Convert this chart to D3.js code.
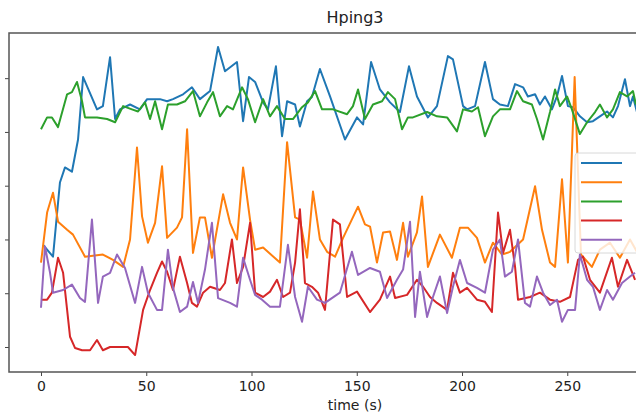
<!DOCTYPE html>
<html>
<head>
<meta charset="utf-8">
<script src="https://cdn.jsdelivr.net/npm/d3@7"></script>
<style>
  body { margin: 0; background: #fff; }
  text { font-family: "DejaVu Sans", sans-serif; fill: #222; }
</style>
</head>
<body>
<div id="chart"></div>
<script>
// values, time in s, level in tick units (labels are cropped)
var blueT = [1, 5.7, 9, 11.4, 14.7, 17.6, 20, 26.6, 29.4, 32.8, 35.2, 37.5, 42.3, 47, 50.4, 56.5, 59.9, 62.7, 67.5, 71.7, 75.5, 80.3, 84.1, 87.4, 93.1, 96, 98.8, 101.7, 105.5, 107.8, 111.6, 114.5, 116.9, 120.7, 123, 126.4, 128.7, 132.5, 137.3, 144.4, 150.1, 153, 156.8, 161, 165.8, 170.5, 174.8, 178.6, 183.8, 188.1, 193.3, 195.7, 200.5, 202.4, 206.2, 210.9, 214.7, 218, 221.8, 225.2, 229, 231.3, 234.7, 237, 239.4, 242.7, 245.1, 247.5, 250.3, 252.7, 256, 259.4, 262.2, 265.5, 268.9, 271.7, 274.1, 277.4, 279.8, 281.2, 283.1];
var blueV = [1.90, 1.68, 3.06, 3.34, 3.26, 3.86, 5.02, 4.42, 4.48, 5.39, 4.24, 4.42, 4.51, 4.42, 4.61, 4.61, 4.57, 4.61, 4.70, 4.83, 4.61, 4.76, 5.58, 5.13, 5.30, 4.20, 5.02, 4.93, 4.55, 4.42, 5.22, 3.92, 4.57, 4.51, 4.10, 4.57, 4.65, 5.17, 4.66, 3.86, 4.27, 4.14, 5.30, 4.79, 4.55, 4.37, 5.22, 4.66, 4.27, 4.48, 5.41, 5.35, 4.48, 4.42, 4.48, 5.30, 4.61, 4.51, 4.48, 4.89, 4.83, 4.66, 4.70, 4.51, 4.66, 4.42, 4.66, 5.04, 4.48, 4.46, 4.29, 4.18, 4.20, 4.29, 4.38, 4.27, 4.48, 4.98, 4.48, 4.66, 4.37];

var orangeT = [0, 2.9, 5.7, 8.1, 12.4, 15.2, 20.9, 29.4, 34.2, 39, 42.3, 45.6, 48, 50.8, 54.2, 57.5, 59.9, 64.6, 67, 69.4, 72.2, 75.5, 77.9, 81.2, 86.5, 89.8, 93.1, 96, 99.3, 101.7, 105.5, 113.5, 116.9, 120.7, 123, 126.4, 129.2, 132.5, 135.9, 139.7, 143.5, 150.6, 153.9, 156.3, 159.6, 162.5, 165.8, 169.1, 172, 174.3, 178.6, 181, 183.8, 189.5, 195.2, 199, 202.8, 207.1, 210.9, 214.7, 219, 222.8, 229, 234.7, 238, 241.8, 244.2, 247.5, 250.3, 253.5, 256.5, 261.7, 265.5, 270.3, 275, 279.8, 283.1];
var orangeV = [1.57, 2.50, 2.87, 2.33, 2.18, 2.09, 1.68, 1.72, 1.62, 1.49, 2.00, 3.71, 2.43, 1.94, 2.31, 3.36, 2.03, 2.22, 2.41, 4.05, 1.75, 2.41, 2.41, 1.66, 2.84, 2.31, 2.00, 3.34, 2.37, 1.81, 1.85, 1.57, 3.81, 2.41, 2.37, 1.66, 2.89, 2.00, 1.77, 1.68, 2.03, 2.61, 2.28, 2.24, 1.57, 2.13, 2.15, 1.62, 2.31, 1.68, 2.13, 2.80, 1.49, 2.09, 1.66, 2.22, 2.22, 2.03, 1.57, 1.94, 1.72, 1.77, 2.00, 2.99, 2.18, 1.57, 1.49, 3.12, 1.57, 5.02, 1.72, 1.49, 1.81, 1.94, 1.66, 2.00, 1.77];

var greenT = [0, 2.9, 5.2, 8.1, 12.4, 14.7, 17.1, 19.5, 20.9, 26.6, 31.4, 35.2, 39, 43.2, 46.1, 49.4, 51.8, 54.2, 57.5, 60.3, 64.6, 68.4, 72.2, 75.5, 78.9, 81.7, 85, 88.4, 91.2, 95.5, 98.3, 101.7, 105.5, 108.8, 112.1, 115.9, 119.7, 124, 126.8, 130.2, 133.5, 138.7, 145.4, 148.2, 150.6, 153.9, 157.7, 162, 164.8, 168.2, 171.5, 174.3, 176.7, 183.4, 188.1, 192.9, 197.6, 200.5, 204.7, 207.6, 210.9, 214.7, 218, 222.8, 226.1, 229, 233.2, 235.6, 238.5, 241.8, 244.2, 246.5, 249.9, 252.2, 256, 259.4, 263.2, 265.5, 268.9, 271.7, 275, 278.4, 281.2, 282.6];
var greenV = [4.05, 4.27, 4.27, 4.09, 4.70, 4.74, 4.93, 4.57, 4.27, 4.27, 4.24, 4.18, 4.48, 4.42, 4.38, 4.55, 4.24, 4.57, 4.05, 4.51, 4.51, 4.57, 4.76, 4.29, 4.55, 4.74, 4.29, 4.48, 4.42, 4.83, 4.61, 4.18, 4.61, 4.29, 4.48, 4.24, 4.24, 4.46, 4.55, 4.76, 4.42, 4.42, 4.33, 4.48, 4.79, 4.24, 4.51, 4.57, 4.74, 4.61, 4.05, 4.27, 4.27, 4.37, 4.29, 4.27, 4.01, 4.42, 4.38, 4.46, 3.92, 4.29, 4.42, 4.42, 4.76, 4.57, 4.51, 4.24, 3.86, 4.37, 4.79, 4.48, 4.66, 4.42, 3.96, 4.18, 4.37, 4.51, 4.27, 4.42, 4.74, 4.66, 4.76, 4.51];

var redT = [0, 2.9, 5.2, 8.1, 10.5, 13.8, 16.2, 19.5, 23.3, 26.6, 29.4, 32.8, 37.5, 41.3, 44.7, 48.5, 51.8, 55.1, 57.5, 59.9, 62.7, 66, 69.4, 71.7, 74.1, 77, 80.3, 85, 87.4, 90.7, 93.1, 96, 99.3, 101.7, 105.5, 108.8, 112.1, 115, 118.3, 120.7, 123, 125.4, 128.7, 131.6, 134.9, 138.7, 142, 145.4, 150.1, 156.3, 161, 165.8, 168.2, 173.9, 178.6, 181.5, 184.8, 188.1, 192.9, 195.7, 199, 202.4, 207.1, 210.9, 214.2, 217.1, 219.5, 222.8, 225.2, 226.6, 232.3, 237, 241.8, 246.5, 251.3, 255.1, 257.5, 260.8, 265.5, 271.2, 274.1, 278.4, 282.2];
var redV = [0.88, 0.88, 1.01, 1.66, 1.38, 0.19, -0.02, -0.06, -0.06, 0.13, -0.06, 0, 0, 0, -0.15, 0.69, 1.06, 1.38, 1.59, 1.40, 1.06, 1.68, 1.19, 0.82, 0.75, 1.01, 1.12, 1.06, 1.19, 2.00, 1.19, 1.49, 2.31, 1.01, 0.93, 1.03, 1.25, 0.93, 1.01, 1.57, 2.56, 1.19, 1.12, 1.01, 0.69, 2.37, 2.28, 0.93, 1.03, 0.65, 0.88, 1.31, 0.91, 0.97, 1.25, 1.12, 0.93, 0.82, 0.69, 1.38, 1.01, 1.10, 0.88, 0.84, 0.65, 2.50, 1.75, 2.18, 1.49, 0.88, 0.93, 1.01, 0.88, 0.84, 0.93, 1.62, 1.68, 1.25, 1.01, 1.66, 1.12, 1.62, 1.25];

var purpleT = [0, 1.9, 4.3, 5.7, 10.5, 14.7, 18.5, 20.9, 24.2, 27.1, 29.4, 32.8, 36.1, 39.9, 44.7, 48, 50.8, 55.1, 57.5, 60.3, 62.7, 66, 69.4, 72.2, 74.6, 77.9, 81.2, 84.1, 89.8, 93.1, 96, 99.3, 101.7, 105, 108.8, 113.5, 117.3, 120.7, 124, 126.8, 131.1, 134.9, 142, 147.7, 150.6, 156.3, 161, 164.4, 169.1, 172, 175.3, 177.7, 180, 183.4, 186.2, 189.5, 192.9, 195.7, 199, 202.4, 207.1, 210.9, 214.7, 218, 220.4, 223.7, 226.6, 229.9, 232.3, 235.6, 238.5, 241.8, 245.1, 247.5, 250.3, 253.7, 256, 259.4, 262.2, 265.5, 268.9, 271.7, 276, 279.8, 282.2];
var purpleV = [0.73, 1.87, 1.38, 1.01, 1.06, 1.16, 0.91, 0.84, 2.37, 0.82, 1.31, 1.38, 1.72, 1.47, 0.82, 1.49, 1.01, 0.69, 0.69, 1.81, 1.10, 0.65, 0.75, 1.21, 0.82, 1.44, 2.31, 0.91, 0.82, 0.75, 1.66, 1.25, 0.97, 0.88, 0.75, 0.75, 1.90, 0.93, 0.47, 1.12, 0.88, 0.82, 1.01, 1.77, 1.34, 1.47, 1.40, 0.91, 1.25, 1.44, 2.33, 0.56, 1.40, 0.56, 0.93, 1.31, 0.63, 1.12, 1.62, 1.19, 1.10, 1.01, 1.81, 2.00, 1.31, 1.40, 2.00, 0.82, 0.75, 1.31, 1.01, 0.78, 0.88, 0.47, 0.69, 0.69, 1.72, 1.25, 1.12, 0.69, 1.06, 0.88, 1.19, 1.31, 1.38];

var xTicks = [0, 50, 100, 150, 200, 250];
var yTicks = [0, 1, 2, 3, 4, 5];
var colors = ["#1f77b4", "#ff7f0e", "#2ca02c", "#d62728", "#9467bd"];

var width = 636;
var height = 414;
var plotLeft = 9, plotTop = 33, plotRight = 702, plotBottom = 372;

var svg = d3.select("#chart")
    .append("svg")
    .attr("width", width)
    .attr("height", height);

var xScale = d3.scaleLinear()
    .domain([-15.2, 314])
    .range([plotLeft, plotRight]);

var yScale = d3.scaleLinear()
    .domain([-0.465, 5.84])
    .range([plotBottom, plotTop]);

svg.append("clipPath")
    .attr("id", "plot-clip")
    .append("rect")
    .attr("x", plotLeft)
    .attr("y", plotTop)
    .attr("width", plotRight - plotLeft)
    .attr("height", plotBottom - plotTop);

var series = [
    { t: blueT, v: blueV },
    { t: orangeT, v: orangeV },
    { t: greenT, v: greenV },
    { t: redT, v: redV },
    { t: purpleT, v: purpleV }
];

var line = d3.line()
    .x(function (d) { return xScale(d[0]); })
    .y(function (d) { return yScale(d[1]); });

svg.append("g")
    .attr("clip-path", "url(#plot-clip)")
    .selectAll("path")
    .data(series)
    .join("path")
    .attr("d", function (s) {
        return line(s.t.map(function (t, i) { return [t, s.v[i]]; }));
    })
    .attr("fill", "none")
    .attr("stroke", function (s, i) { return colors[i]; })
    .attr("stroke-width", 2)
    .attr("stroke-linejoin", "round");

// axes
var xAxis = svg.append("g")
    .attr("transform", "translate(0," + plotBottom + ")")
    .call(d3.axisBottom(xScale).tickValues(xTicks).tickSize(4).tickPadding(5));
xAxis.select(".domain").remove();
xAxis.selectAll("text")
    .attr("font-size", "14px")
    .attr("font-family", "DejaVu Sans")
    .attr("fill", "#222");
xAxis.selectAll("line").attr("stroke", "#444");

var yAxis = svg.append("g")
    .attr("transform", "translate(" + plotLeft + ",0)")
    .call(d3.axisLeft(yScale).tickValues(yTicks).tickSize(4).tickFormat(""));
yAxis.select(".domain").remove();
yAxis.selectAll("line").attr("stroke", "#444");

// frame
svg.append("rect")
    .attr("x", plotLeft)
    .attr("y", plotTop)
    .attr("width", plotRight - plotLeft)
    .attr("height", plotBottom - plotTop)
    .attr("fill", "none")
    .attr("stroke", "#555")
    .attr("stroke-width", 1.5);

// legend (labels fall outside the cropped picture)
var legend = svg.append("g");
legend.append("rect")
    .attr("x", 575)
    .attr("y", 153)
    .attr("width", 90)
    .attr("height", 100)
    .attr("rx", 3)
    .attr("fill", "#fff")
    .attr("fill-opacity", 0.8)
    .attr("stroke", "#d8d8d8");

legend.selectAll("line.key")
    .data(colors)
    .join("line")
    .attr("class", "key")
    .attr("x1", 581)
    .attr("x2", 622)
    .attr("y1", function (d, i) { return 163 + i * 19.2; })
    .attr("y2", function (d, i) { return 163 + i * 19.2; })
    .attr("stroke", function (d) { return d; })
    .attr("stroke-width", 2);

svg.append("text")
    .attr("x", 355)
    .attr("y", 23)
    .attr("text-anchor", "middle")
    .attr("font-size", "16px")
    .text("Hping3");

svg.append("text")
    .attr("x", 355)
    .attr("y", 410)
    .attr("text-anchor", "middle")
    .attr("font-size", "14px")
    .text("time (s)");
</script>
</body>
</html>
